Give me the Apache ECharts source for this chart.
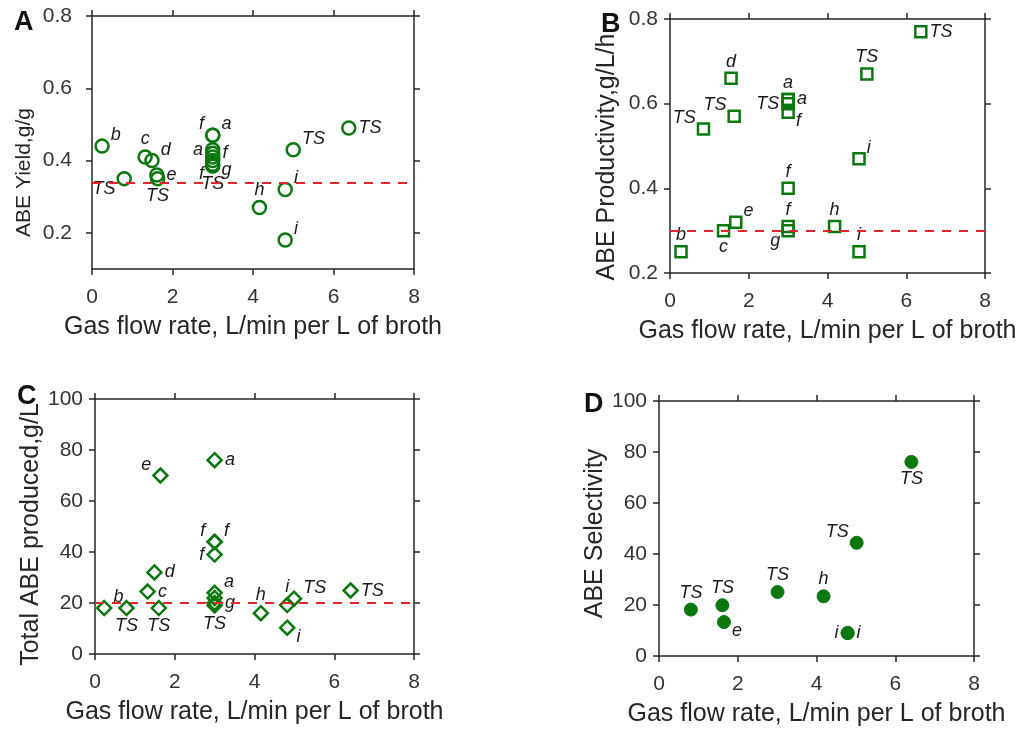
<!DOCTYPE html>
<html>
<head>
<meta charset="utf-8">
<script src="https://cdn.jsdelivr.net/npm/echarts@6/dist/echarts.min.js"></script>
<style>
  html, body { margin: 0; padding: 0; background: #fff; }
  #chart { width: 1026px; height: 731px; }
</style>
</head>
<body>
<div id="chart"></div>
<script>
// shared x axis ticks (gas flow rate)
const xTicks = [0, 2, 4, 6, 8]

// A: ABE yield, g/g
const yieldX = [0.25, 0.8, 1.32, 1.49, 1.61, 1.63, 3.0, 3.0, 3.0, 3.0, 3.0, 3.0, 3.0, 3.0, 4.16, 4.8, 4.8, 5.0, 6.38]
const yieldY = [0.44, 0.35, 0.41, 0.40, 0.36, 0.35, 0.47, 0.47, 0.43, 0.42, 0.41, 0.40, 0.39, 0.385, 0.27, 0.32, 0.18, 0.43, 0.49]
const yieldTag = ['b', 'TS', 'c', 'd', 'e', 'TS', 'f', 'a', 'a', 'f', '', 'g', 'f', 'TS', 'h', 'i', 'i', 'TS', 'TS']
const yieldTicks = [0.2, 0.4, 0.6, 0.8]
const yieldRef = 0.345

// B: ABE productivity, g/L/h
const prodX = [0.28, 0.85, 1.55, 1.63, 1.36, 1.67, 3.0, 3.0, 3.0, 3.0, 3.0, 3.0, 3.0, 4.18, 4.8, 4.8, 5.0, 6.37]
const prodY = [0.25, 0.54, 0.66, 0.57, 0.30, 0.32, 0.61, 0.61, 0.60, 0.58, 0.40, 0.31, 0.30, 0.31, 0.47, 0.25, 0.67, 0.77]
const prodTag = ['b', 'TS', 'd', 'TS', 'c', 'e', 'a', 'a', 'TS', 'f', 'f', 'f', 'g', 'h', 'i', 'i', 'TS', 'TS']
const prodTicks = [0.2, 0.4, 0.6, 0.8]
const prodRef = 0.30

// C: total ABE produced, g/L
const totalX = [0.23, 0.79, 1.32, 1.49, 1.64, 1.60, 3.0, 3.0, 3.0, 3.0, 3.0, 3.0, 3.0, 3.0, 4.16, 4.82, 4.99, 4.82, 6.41]
const totalY = [18, 18, 24.5, 32, 70, 18, 76, 44, 44, 39, 24, 22, 20, 19, 16, 19.2, 21.7, 10.3, 24.9]
const totalTag = ['b', 'TS', 'c', 'd', 'e', 'TS', 'a', 'f', 'f', 'f', 'a', '', 'g', 'TS', 'h', 'i', 'TS', 'i', 'TS']
const totalTicks = [0, 20, 40, 60, 80, 100]
const totalRef = 20

// D: ABE selectivity
const selX = [0.81, 1.61, 1.65, 3.01, 4.18, 4.79, 4.79, 5.02, 6.41]
const selY = [18.2, 19.9, 13.3, 25.1, 23.4, 9.0, 9.0, 44.4, 76.1]
const selTag = ['TS', 'TS', 'e', 'TS', 'h', 'i', 'i', 'TS', 'TS']
const selTicks = [0, 20, 40, 60, 80, 100]

// where each tag sits next to its marker
const yieldTagPos = ['tr', 'bl', 't', 'tr', 'r', 'b', 'tl', 'tr', 'l', 'r', 'r', 'br', 'bl', 'b', 't', 'tr', 'tr', 'tr', 'r']
const prodTagPos = ['t', 'tl', 't', 'tl', 'b', 'tr', 't', 'r', 'l', 'br', 't', 't', 'bl', 't', 'tr', 't', 't', 'r']
const totalTagPos = ['tr', 'b', 'r', 'r', 'tl', 'b', 'r', 'tl', 'tr', 'l', 'tr', 'r', 'r', 'b', 't', 't', 'tr', 'br', 'r']
const selTagPos = ['t', 't', 'br', 't', 't', 'l', 'r', 'tl', 'b']

const font = "'Liberation Sans', Arial, sans-serif"
const green = '#0b780f'
const ink = '#262626'

const place = {
  r: { position: 'right', distance: 2 },
  l: { position: 'left', distance: 2 },
  t: { position: 'top', distance: 1 },
  b: { position: 'bottom', distance: 1 },
  tr: { position: 'right', distance: 1, offset: [0, -11] },
  tl: { position: 'left', distance: 1, offset: [0, -11] },
  br: { position: 'right', distance: 1, offset: [0, 9] },
  bl: { position: 'left', distance: 1, offset: [0, 10] }
}

const boxes = [
  { left: 92, top: 16, width: 322, height: 253 },
  { left: 670, top: 19, width: 315, height: 254 },
  { left: 95, top: 399, width: 319, height: 255 },
  { left: 659, top: 401, width: 315, height: 255 }
]

function axisLineStyle() {
  return { show: true, onZero: false, lineStyle: { color: ink, width: 1.5 } }
}

function xAxes(gi) {
  const base = {
    type: 'value', gridIndex: gi, min: 0, max: 8,
    axisLine: axisLineStyle(),
    axisTick: { show: true, length: 6, customValues: xTicks, lineStyle: { color: ink, width: 1.5 } },
    splitLine: { show: false }
  }
  return [
    Object.assign({}, base, {
      position: 'bottom',
      name: 'Gas flow rate, L/min per L of broth',
      nameLocation: 'middle',
      nameGap: 46,
      nameTextStyle: { color: ink, fontSize: 25, fontFamily: font },
      axisLabel: { customValues: xTicks, color: '#333', fontSize: 21, fontFamily: font, margin: 18 }
    }),
    Object.assign({}, base, { position: 'top', axisLabel: { show: false } })
  ]
}

// shift > 0 moves the rotated title down along the axis
function yAxes(gi, min, max, ticks, name, nameSize, nameGap, shift, labelMargin) {
  const base = {
    type: 'value', gridIndex: gi, min: min, max: max,
    axisLine: axisLineStyle(),
    axisTick: { show: true, length: 6, customValues: ticks, lineStyle: { color: ink, width: 1.5 } },
    splitLine: { show: false }
  }
  return [
    Object.assign({}, base, {
      position: 'left',
      name: name,
      nameLocation: 'middle',
      nameGap: nameGap,
      nameTextStyle: {
        color: ink, fontSize: nameSize, fontFamily: font,
        padding: [0, shift * 2, 0, 0]
      },
      axisLabel: { customValues: ticks, color: '#333', fontSize: 21, fontFamily: font, margin: labelMargin }
    }),
    Object.assign({}, base, { position: 'right', axisLabel: { show: false } })
  ]
}

function points(xs, ys, tags, tagPos) {
  return xs.map((x, i) => ({
    value: [x, ys[i]],
    label: Object.assign({ formatter: tags[i] }, place[tagPos[i]])
  }))
}

function refLine(value) {
  return {
    silent: true,
    symbol: 'none',
    label: { show: false },
    lineStyle: { color: '#e3262b', width: 2, type: [9, 8], opacity: 1 },
    data: [{ yAxis: value }]
  }
}

function scatter(gi, data, symbol, size, filled, ref) {
  const s = {
    type: 'scatter',
    xAxisIndex: gi * 2,
    yAxisIndex: gi * 2,
    data: data,
    symbol: symbol,
    symbolSize: size,
    itemStyle: filled
      ? { color: green, borderColor: green, borderWidth: 1, opacity: 1 }
      : { color: 'rgba(255,255,255,0)', borderColor: green, borderWidth: 2.5, opacity: 1 },
    label: {
      show: true,
      color: '#1a1a1a',
      fontSize: 18,
      fontStyle: 'italic',
      fontFamily: font
    },
    emphasis: { disabled: true },
    z: 3
  }
  if (ref !== undefined) s.markLine = refLine(ref)
  return s
}

const chart = echarts.init(document.getElementById('chart'), null, { renderer: 'canvas' })

const letterStyle = { color: '#111', fontSize: 27, fontWeight: 'bold', fontFamily: font }

chart.setOption({
  animation: false,
  backgroundColor: '#fff',
  title: [
    { text: 'A', left: 14, top: 9, padding: 0, textStyle: letterStyle },
    { text: 'B', left: 601, top: 11, padding: 0, textStyle: letterStyle },
    { text: 'C', left: 17, top: 383, padding: 0, textStyle: letterStyle },
    { text: 'D', left: 584, top: 391, padding: 0, textStyle: letterStyle }
  ],
  grid: boxes.map(b => Object.assign({ containLabel: false }, b)),
  xAxis: [].concat(xAxes(0), xAxes(1), xAxes(2), xAxes(3)),
  yAxis: [].concat(
    yAxes(0, 0.1, 0.8, yieldTicks, 'ABE Yield,g/g', 21, 57, 30, 20),
    yAxes(1, 0.2, 0.8, prodTicks, 'ABE Productivity,g/L/h', 25, 50, 11, 12),
    yAxes(2, 0, 100, totalTicks, 'Total ABE produced,g/L', 25, 50, 8, 12),
    yAxes(3, 0, 100, selTicks, 'ABE Selectivity', 25, 51, 5, 12)
  ),
  series: [
    scatter(0, points(yieldX, yieldY, yieldTag, yieldTagPos), 'circle', 13, false, yieldRef),
    scatter(1, points(prodX, prodY, prodTag, prodTagPos), 'rect', 11, false, prodRef),
    scatter(2, points(totalX, totalY, totalTag, totalTagPos), 'diamond', 14, false, totalRef),
    scatter(3, points(selX, selY, selTag, selTagPos), 'circle', 13, true)
  ]
})
</script>
</body>
</html>
